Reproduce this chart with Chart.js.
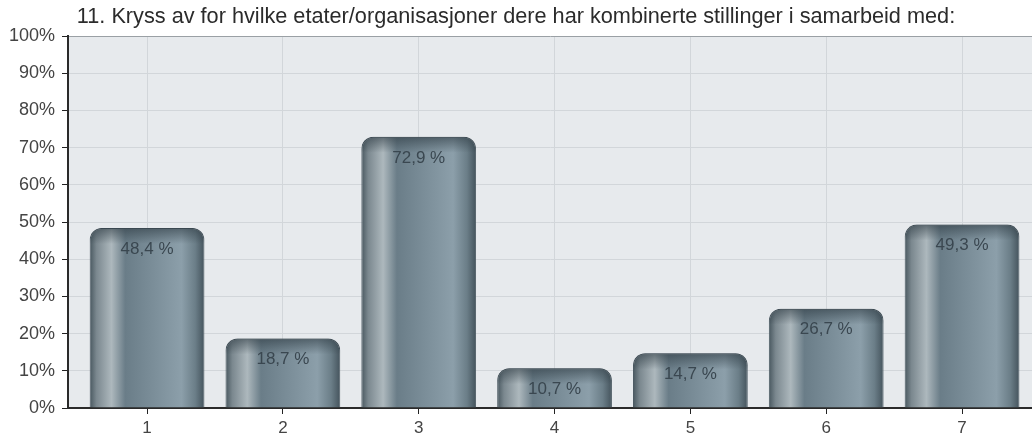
<!DOCTYPE html>
<html>
<head>
<meta charset="utf-8">
<script src="https://cdn.jsdelivr.net/npm/chart.js@4"></script>
<style>
  html, body { margin: 0; padding: 0; background: #fff; overflow: hidden; }
  #wrap { width: 1032px; height: 437px; }
</style>
</head>
<body>
<div id="wrap"><canvas id="chart"></canvas></div>
<script>
const categories = [1, 2, 3, 4, 5, 6, 7];
const shares = [48.4, 18.7, 72.9, 10.7, 14.7, 26.7, 49.3];
const yTicks = [0, 10, 20, 30, 40, 50, 60, 70, 80, 90, 100];
const title = '11. Kryss av for hvilke etater/organisasjoner dere har kombinerte stillinger i samarbeid med:';

const FONT = '"Liberation Sans", Arial, sans-serif';
const BAR_PCT = 0.845;

// cylinder look: horizontal gradient across each bar
function barFill(ctx) {
  const chart = ctx.chart;
  const xs = chart.scales.x;
  if (!xs || ctx.type !== 'data') return '#7f939e';
  const cx = xs.getPixelForValue(categories[ctx.dataIndex]);
  const w = (xs.getPixelForValue(2) - xs.getPixelForValue(1)) * BAR_PCT;
  if (!isFinite(cx) || !isFinite(w) || w <= 0) return '#7f939e';
  const g = chart.ctx.createLinearGradient(cx - w / 2, 0, cx + w / 2, 0);
  g.addColorStop(0, '#48575f');
  g.addColorStop(0.06, '#7b888f');
  g.addColorStop(0.19, '#adb8bd');
  g.addColorStop(0.31, '#6a7d88');
  g.addColorStop(0.8, '#8c9faa');
  g.addColorStop(0.92, '#6b7e88');
  g.addColorStop(1, '#44535c');
  return g;
}

const plotBg = {
  id: 'plotBg',
  beforeDraw(chart) {
    const { ctx, chartArea: a } = chart;
    ctx.save();
    ctx.fillStyle = '#e7eaed';
    ctx.fillRect(a.left, a.top, a.right - a.left, a.bottom - a.top);
    ctx.restore();
  }
};

// darker cap at the top of each bar + value labels
const barExtras = {
  id: 'barExtras',
  afterDatasetsDraw(chart) {
    const ctx = chart.ctx;
    const meta = chart.getDatasetMeta(0);
    meta.data.forEach((el, i) => {
      const left = el.x - el.width / 2;
      ctx.save();
      ctx.beginPath();
      ctx.roundRect(left, el.y, el.width, 16, [12, 12, 0, 0]);
      ctx.clip();
      const g = ctx.createLinearGradient(0, el.y, 0, el.y + 16);
      g.addColorStop(0, 'rgba(45,58,66,0.6)');
      g.addColorStop(1, 'rgba(45,58,66,0)');
      ctx.fillStyle = g;
      ctx.fillRect(left, el.y, el.width, 16);
      ctx.restore();

      ctx.save();
      ctx.font = '17px ' + FONT;
      ctx.fillStyle = '#3a4750';
      ctx.textAlign = 'center';
      ctx.textBaseline = 'middle';
      ctx.fillText(shares[i].toFixed(1).replace('.', ',') + ' %', el.x, el.y + 21);
      ctx.restore();
    });
  }
};

const chart = new Chart(document.getElementById('chart'), {
  type: 'bar',
  data: {
    datasets: [{
      data: categories.map((c, i) => ({ x: c, y: shares[i] })),
      backgroundColor: barFill,
      borderColor: '#4d5b64',
      borderWidth: 1,
      borderRadius: 12,
      barPercentage: BAR_PCT,
      categoryPercentage: 1
    }]
  },
  options: {
    responsive: true,
    maintainAspectRatio: false,
    animation: false,
    layout: { padding: 0 },
    plugins: {
      legend: { display: false },
      tooltip: { enabled: false },
      title: {
        display: true,
        text: title,
        color: '#2b2b2b',
        font: { family: FONT, size: 21.7, weight: 'normal' },
        padding: { top: 4, bottom: 6 }
      }
    },
    scales: {
      x: {
        type: 'linear',
        offset: false,
        min: 0.418,
        max: 7.515,
        afterBuildTicks: (s) => { s.ticks = categories.map(v => ({ value: v })); },
        afterFit: (s) => { s.height = 29; },
        grid: { offset: false, color: '#d2d6da', tickColor: '#222', tickLength: 6, lineWidth: 1 },
        border: { color: '#2a2a2a', width: 2 },
        ticks: { color: '#444', padding: 4, font: { family: FONT, size: 17 } }
      },
      y: {
        min: 0,
        max: 100,
        afterBuildTicks: (s) => { s.ticks = yTicks.map(v => ({ value: v })); },
        afterFit: (s) => { s.width = 68; },
        grid: { color: (c) => c.tick && c.tick.value === 100 ? '#9aa0a5' : '#d2d6da', tickColor: '#222', tickLength: 6 },
        border: { color: '#2a2a2a', width: 2 },
        ticks: {
          color: '#444',
          padding: 7,
          font: { family: FONT, size: 18 },
          callback: (v) => v + '%'
        }
      }
    }
  },
  plugins: [plotBg, barExtras]
});
chart.update();
</script>
</body>
</html>
